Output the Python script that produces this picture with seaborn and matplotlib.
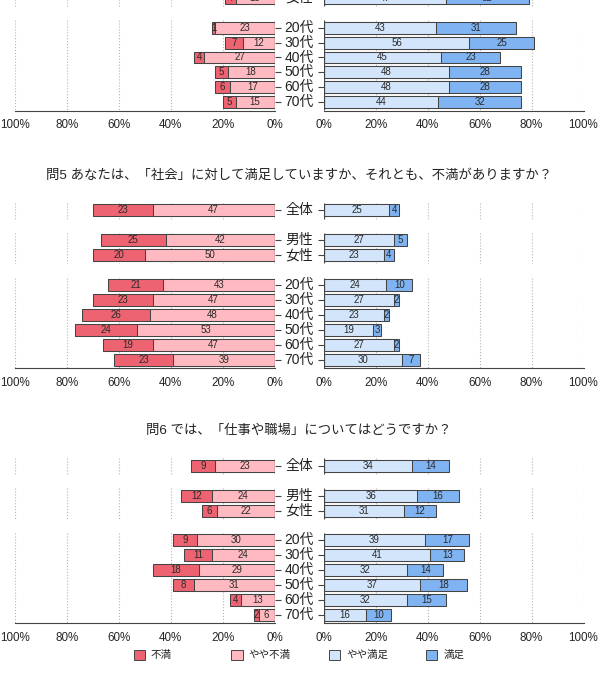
import numpy as np
import pandas as pd
import matplotlib
matplotlib.use('Agg')
import matplotlib.pyplot as plt
import matplotlib.transforms as mtransforms
from matplotlib.patches import Rectangle
from matplotlib.ticker import MultipleLocator, FuncFormatter
import seaborn as sns

sns.set_style('white')
# 日本語フォント設定（set_styleの後に）
plt.rcParams['font.family'] = ['Liberation Sans', 'Noto Sans CJK JP']
plt.rcParams['axes.unicode_minus'] = False

# 回答区分と色
levels = ['不満', 'やや不満', 'やや満足', '満足']
colors = ['#EE6371', '#FFB9C1', '#D3E5FB', '#7FB3F1']
edge = '#444444'

# 行のグループ（全体 / 性別 / 年代）
groups = [['全体'], ['男性', '女性'], ['20代', '30代', '40代', '50代', '60代', '70代']]

# 上の設問（画像上端で切れていて、女性以降のみ見える）
q4_rows = ['女性', '20代', '30代', '40代', '50代', '60代', '70代']
q4_fuman = [4, 1, 7, 4, 5, 6, 5]
q4_yaya_fuman = [15, 23, 12, 27, 18, 17, 15]
q4_yaya_manzoku = [47, 43, 56, 45, 48, 48, 44]
q4_manzoku = [32, 31, 25, 23, 28, 28, 32]

q5_title = '問5 あなたは、「社会」に対して満足していますか、それとも、不満がありますか？'
q5_rows = ['全体', '男性', '女性', '20代', '30代', '40代', '50代', '60代', '70代']
q5_fuman = [23, 25, 20, 21, 23, 26, 24, 19, 23]
q5_yaya_fuman = [47, 42, 50, 43, 47, 48, 53, 47, 39]
q5_yaya_manzoku = [25, 27, 23, 24, 27, 23, 19, 27, 30]
q5_manzoku = [4, 5, 4, 10, 2, 2, 3, 2, 7]

q6_title = '問6 では、「仕事や職場」についてはどうですか？'
q6_rows = ['全体', '男性', '女性', '20代', '30代', '40代', '50代', '60代', '70代']
q6_fuman = [9, 12, 6, 9, 11, 18, 8, 4, 2]
q6_yaya_fuman = [23, 24, 22, 30, 24, 29, 31, 13, 6]
q6_yaya_manzoku = [34, 36, 31, 39, 41, 32, 37, 32, 16]
q6_manzoku = [14, 16, 12, 17, 13, 14, 18, 15, 10]

# 行の位置（グループ間に1行分の隙間）
row_pos = {}
p = 0
for g in groups:
    for r in g:
        row_pos[r] = p
        p += 1
    p += 1

W, H = 603, 680
fig = plt.figure(figsize=(W / 100, H / 100), dpi=100)

x_left = 15 / W
x_right = 324 / W
ax_w = 259.5 / W
ax_h = 166.5 / H
ylim = (10.55, -0.6)
label_x = 299 / W


def pct(v, _):
    return f'{v:.0f}%'


def style_axis(ax, side):
    ax.set_xlim(0, 100)
    if side == 'left':
        ax.invert_xaxis()
    ax.set_ylim(*ylim)
    for s in ['top', 'left', 'right']:
        ax.spines[s].set_visible(False)
    ax.spines['bottom'].set_color(edge)
    ax.spines['bottom'].set_linewidth(0.8)
    ax.xaxis.set_major_locator(MultipleLocator(20))
    ax.xaxis.set_minor_locator(MultipleLocator(10))
    ax.xaxis.set_major_formatter(FuncFormatter(pct))
    ax.tick_params(axis='x', which='both', direction='out', length=3.2, width=0.8,
                   color=edge, pad=3, labelsize=8.4)
    ax.set_yticks(sorted(row_pos.values()))
    ax.set_yticklabels([])
    if side == 'left':
        ax.tick_params(axis='y', left=False, right=True, direction='out', length=4.3,
                       width=0.8, color=edge)
    else:
        ax.tick_params(axis='y', left=True, right=False, direction='out', length=4.3,
                       width=0.8, color=edge)
    ax.set_xlabel('')
    ax.set_ylabel('')
    # グループごとのグリッドと0%の縦線
    for g in groups:
        y0 = row_pos[g[0]] - 0.5
        y1 = row_pos[g[-1]] + 0.55
        ax.vlines([20, 40, 60, 80, 100], y0, y1, colors='#b5b5b5', linestyles=':',
                  linewidth=0.8, zorder=0.5)
        ax.vlines(0, y0, y1, colors=edge, linewidth=0.9, zorder=3)


def draw_panel(bottom, rows, fuman, yaya_fuman, yaya_manzoku, manzoku, title=None):
    ax_l = fig.add_axes([x_left, bottom, ax_w, ax_h])
    ax_r = fig.add_axes([x_right, bottom, ax_w, ax_h])
    df = pd.DataFrame({'row': rows, 'fuman': fuman, 'yaya_fuman': yaya_fuman,
                       'yaya_manzoku': yaya_manzoku, 'manzoku': manzoku})
    df['pos'] = df['row'].map(row_pos)
    df['neg_total'] = df['fuman'] + df['yaya_fuman']
    df['pos_total'] = df['yaya_manzoku'] + df['manzoku']

    kw = dict(y='pos', orient='h', native_scale=True, width=0.8, saturation=1,
              edgecolor=edge, linewidth=0.75, errorbar=None)
    # 外側を全長で描いてから内側を重ねる
    sns.barplot(data=df, x='neg_total', color=colors[0], ax=ax_l, **kw)
    sns.barplot(data=df, x='yaya_fuman', color=colors[1], ax=ax_l, **kw)
    sns.barplot(data=df, x='pos_total', color=colors[3], ax=ax_r, **kw)
    sns.barplot(data=df, x='yaya_manzoku', color=colors[2], ax=ax_r, **kw)

    style_axis(ax_l, 'left')
    style_axis(ax_r, 'right')

    tkw = dict(ha='center', va='center', fontsize=7, color='#2a2a2a', zorder=4)
    for _, r in df.iterrows():
        ax_l.text(r['yaya_fuman'] / 2, r['pos'], str(r['yaya_fuman']), **tkw)
        ax_l.text(r['yaya_fuman'] + r['fuman'] / 2, r['pos'], str(r['fuman']), **tkw)
        ax_r.text(r['yaya_manzoku'] / 2, r['pos'], str(r['yaya_manzoku']), **tkw)
        ax_r.text(r['yaya_manzoku'] + r['manzoku'] / 2, r['pos'], str(r['manzoku']), **tkw)
        trans = mtransforms.blended_transform_factory(fig.transFigure, ax_l.transData)
        ax_l.text(label_x, r['pos'], r['row'], transform=trans, ha='center', va='center',
                  fontsize=10, color='#222222', clip_on=False)

    if title:
        top_px = H * (1 - bottom - ax_h)
        fig.text(label_x, 1 - (top_px - 26) / H, title, ha='center', va='center',
                 fontsize=9.6, color='#222222')


draw_panel(1 - 110.5 / H, q4_rows, q4_fuman, q4_yaya_fuman, q4_yaya_manzoku, q4_manzoku)
draw_panel(1 - 368 / H, q5_rows, q5_fuman, q5_yaya_fuman, q5_yaya_manzoku, q5_manzoku, q5_title)
draw_panel(1 - 623.3 / H, q6_rows, q6_fuman, q6_yaya_fuman, q6_yaya_manzoku, q6_manzoku, q6_title)

# 凡例（手動配置）
leg_y = 1 - 655 / H
for i, (lab, c) in enumerate(zip(levels, colors)):
    x0 = (134 + i * 97.5) / W
    fig.patches.append(Rectangle((x0, leg_y - 5 / H), 11 / W, 10 / H, transform=fig.transFigure,
                                 facecolor=c, edgecolor=edge, linewidth=0.7))
    fig.text(x0 + 17 / W, leg_y, lab, ha='left', va='center', fontsize=7.6, color='#222222')

fig.savefig('out.png', dpi=100)
